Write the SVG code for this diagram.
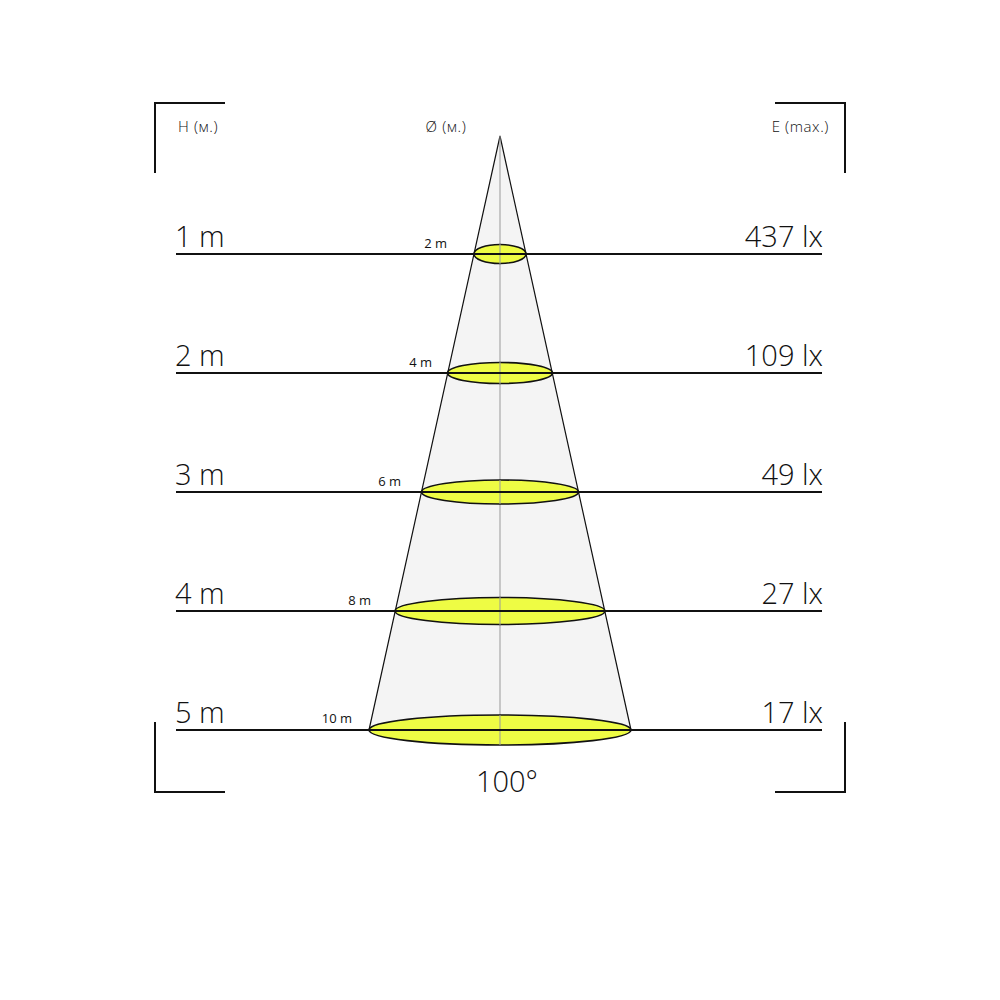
<svg xmlns="http://www.w3.org/2000/svg" width="1000" height="1000" viewBox="0 0 1000 1000">
<style>
text{font-family:"Open Sans","Liberation Sans",sans-serif;fill:#111;font-weight:300}
.big{font-size:29px}
.sm{font-size:13px;font-weight:400}
.hd{font-size:15px;letter-spacing:0.6px}
.lvl{stroke:#111;stroke-width:2;fill:none}
.br{stroke:#111;stroke-width:2;fill:none}
.ell{fill:#eefc44;stroke:#111;stroke-width:1.6}
</style>
<rect width="1000" height="1000" fill="#fff"/>
<g id="brackets">
<path class="br" d="M155,173V103H225"/>
<path class="br" d="M775,103H845V173"/>
<path class="br" d="M155,722V792H225"/>
<path class="br" d="M775,792H845V722"/>
</g>
<g id="headers">
<text class="hd" x="178" y="132">H (м.)</text>
<text class="hd" x="446" y="132" text-anchor="middle">Ø (м.)</text>
<text class="hd" x="829" y="132" text-anchor="end">E (max.)</text>
</g>
<g id="cone">
<path d="M500,136L369,730A131,15 0 0 0 631,730Z" fill="#f4f4f4" stroke="none"/>
<path d="M369,730L500,136L631,730" fill="none" stroke="#111" stroke-width="1.2"/>
<line x1="500" y1="136" x2="500" y2="745" stroke="#999" stroke-width="1"/>
</g>
<g id="connectors">
<line class="lvl" x1="176" y1="254" x2="822" y2="254"/>
<line class="lvl" x1="176" y1="373" x2="822" y2="373"/>
<line class="lvl" x1="176" y1="492" x2="822" y2="492"/>
<line class="lvl" x1="176" y1="611" x2="822" y2="611"/>
<line class="lvl" x1="176" y1="730" x2="822" y2="730"/>
</g>
<g id="level1">
<ellipse class="ell" cx="500" cy="254" rx="26" ry="9.5"/>
<line x1="500" y1="244" x2="500" y2="264" stroke="#999" stroke-width="1"/>
<line class="lvl" x1="474" y1="254" x2="526" y2="254"/>
<text class="big" x="175" y="247">1 m</text>
<text class="sm" x="447" y="248" text-anchor="end">2 m</text>
<text class="big" x="823" y="247" text-anchor="end">437 lx</text>
</g>
<g id="level2">
<ellipse class="ell" cx="500" cy="373" rx="52.5" ry="10.5"/>
<line x1="500" y1="362" x2="500" y2="384" stroke="#999" stroke-width="1"/>
<line class="lvl" x1="447" y1="373" x2="553" y2="373"/>
<text class="big" x="175" y="366">2 m</text>
<text class="sm" x="432" y="367" text-anchor="end">4 m</text>
<text class="big" x="823" y="366" text-anchor="end">109 lx</text>
</g>
<g id="level3">
<ellipse class="ell" cx="500" cy="492" rx="78.5" ry="12"/>
<line x1="500" y1="480" x2="500" y2="504" stroke="#999" stroke-width="1"/>
<line class="lvl" x1="421" y1="492" x2="579" y2="492"/>
<text class="big" x="175" y="485">3 m</text>
<text class="sm" x="401" y="486" text-anchor="end">6 m</text>
<text class="big" x="823" y="485" text-anchor="end">49 lx</text>
</g>
<g id="level4">
<ellipse class="ell" cx="500" cy="611" rx="105" ry="13.5"/>
<line x1="500" y1="597" x2="500" y2="625" stroke="#999" stroke-width="1"/>
<line class="lvl" x1="395" y1="611" x2="605" y2="611"/>
<text class="big" x="175" y="604">4 m</text>
<text class="sm" x="371" y="605" text-anchor="end">8 m</text>
<text class="big" x="823" y="604" text-anchor="end">27 lx</text>
</g>
<g id="level5">
<ellipse class="ell" cx="500" cy="730" rx="131" ry="15"/>
<line x1="500" y1="715" x2="500" y2="745" stroke="#999" stroke-width="1"/>
<line class="lvl" x1="369" y1="730" x2="631" y2="730"/>
<text class="big" x="175" y="723">5 m</text>
<text class="sm" x="352" y="723" text-anchor="end">10 m</text>
<text class="big" x="823" y="723" text-anchor="end">17 lx</text>
</g>
<g id="angle">
<text class="big" x="507" y="792" text-anchor="middle">100°</text>
</g>
</svg>
